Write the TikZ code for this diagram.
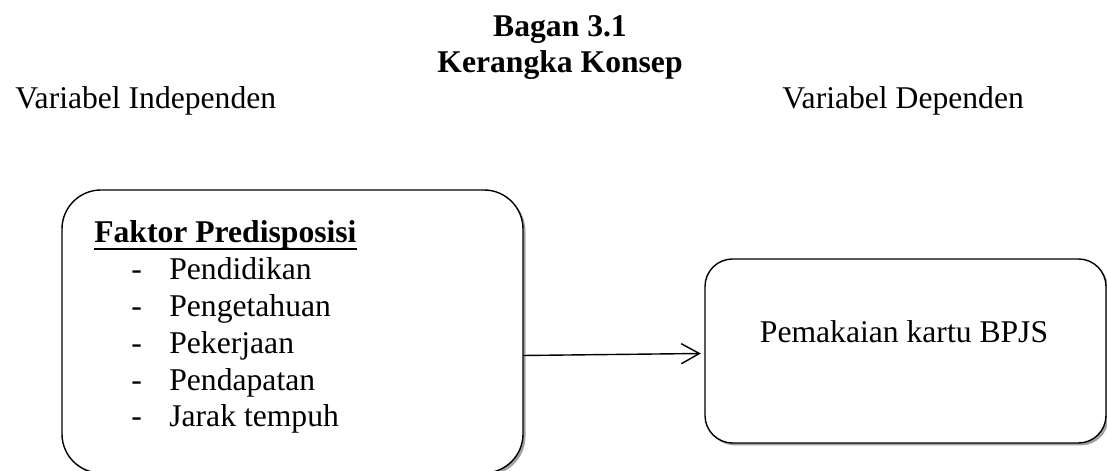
\documentclass[tikz,border=0pt]{standalone}
\usepackage{fontspec}
\setmainfont{Liberation Serif}
\usepackage{tikz}
\usetikzlibrary{positioning,arrows.meta,shadows}

\begin{document}
\begin{tikzpicture}[
  box/.style={draw, line width=0.8pt, fill=white, drop shadow={shadow xshift=0.05cm, shadow yshift=-0.05cm, opacity=0.6, fill=black!60}},
  txt/.style={font=\fontsize{18}{21}\selectfont, inner sep=0pt, anchor=base west},
  head/.style={font=\fontsize{18}{21}\selectfont\bfseries, inner sep=0pt, anchor=base},
  arr/.style={-{Straight Barb[length=3.6mm, width=4mm]}, line width=0.8pt}]
\useasboundingbox (0,0) rectangle (22.14,9.42);
\node[head] (bagan) at (11.2,8.68) {Bagan 3.1};
\node[head] (judul) at (11.2,7.96) {Kerangka Konsep};
\node[txt] (indep) at (0.3,7.24) {Variabel Independen};
\node[txt] (dep) at (15.64,7.24) {Variabel Dependen};
\node[box, rounded corners=0.78cm, minimum width=9.22cm, minimum height=5.66cm] (faktor) at (5.85,2.79) {};
\node[box, rounded corners=0.55cm, minimum width=8.02cm, minimum height=3.68cm] (bpjs) at (18.11,2.40) {};
\node[txt, font=\fontsize{18}{21}\selectfont\bfseries] (judulfaktor) at (1.88,4.56) {Faktor Predisposisi};
\draw[line width=1.1pt] ([yshift=-0.12cm]judulfaktor.base west) -- ([yshift=-0.12cm]judulfaktor.base east);
\foreach \lbl/\yy [count=\i] in {Pendidikan/3.83, Pengetahuan/3.09, Pekerjaan/2.35, Pendapatan/1.61, Jarak tempuh/0.89} {
  \node[txt] (dash\i) at (2.62,\yy) {-};
  \node[txt] (item\i) at (3.38,\yy) {\lbl};
}
\node[txt, anchor=base] (pakai) at (18.08,2.56) {Pemakaian kartu BPJS};
\draw[arr] ([yshift=-0.48cm]faktor.east) -- ([xshift=-0.07cm, yshift=-0.05cm]bpjs.west);
\end{tikzpicture}
\end{document}
